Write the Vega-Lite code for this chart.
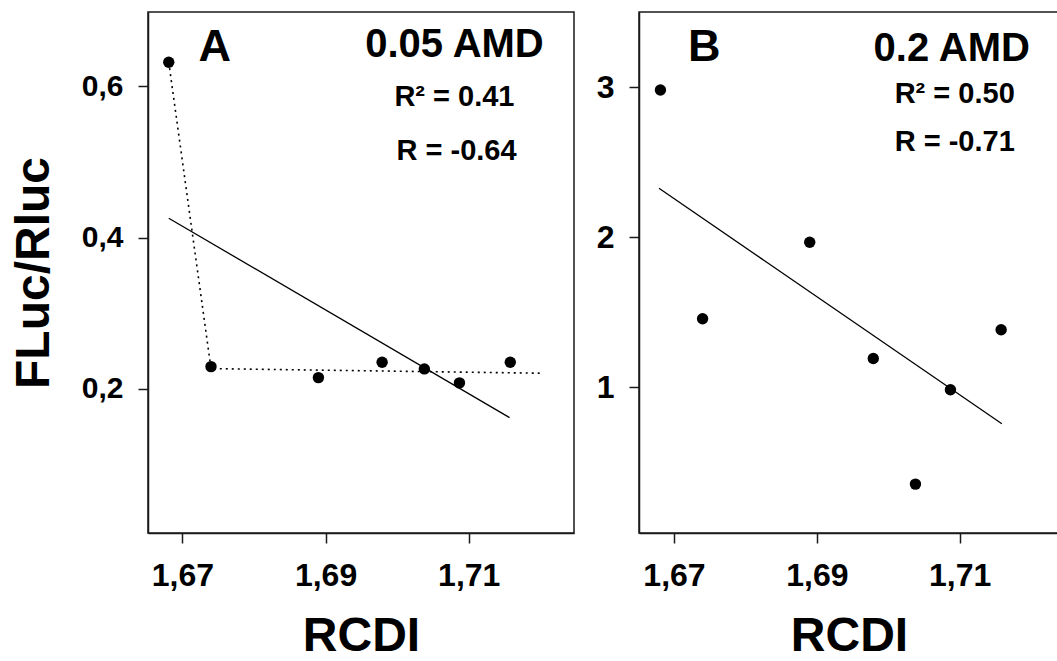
{
  "$schema": "https://vega.github.io/schema/vega-lite/v6.json",
  "background": "white",
  "padding": {"left": 9, "top": 11, "right": 0, "bottom": 0},
  "spacing": 20,
  "config": {
    "view": {"stroke": "#1a1a1a", "strokeWidth": 1.5},
    "font": "Liberation Sans",
    "axis": {
      "grid": false,
      "domainColor": "#1a1a1a",
      "domainWidth": 1.5,
      "tickColor": "#1a1a1a",
      "tickWidth": 1.5,
      "tickSize": 10,
      "labelFont": "Liberation Sans",
      "labelFontWeight": "bold",
      "labelColor": "#000000",
      "titleFont": "Liberation Sans",
      "titleFontWeight": "bold",
      "titleColor": "#000000",
      "titleFontSize": 48
    }
  },
  "datasets": {
    "pts": [
      {"panel": "A", "rcdi": 1.6681, "ratio": 0.632},
      {"panel": "A", "rcdi": 1.6740, "ratio": 0.2295},
      {"panel": "A", "rcdi": 1.6890, "ratio": 0.215},
      {"panel": "A", "rcdi": 1.6979, "ratio": 0.2353},
      {"panel": "A", "rcdi": 1.7038, "ratio": 0.2265},
      {"panel": "A", "rcdi": 1.7087, "ratio": 0.208},
      {"panel": "A", "rcdi": 1.7158, "ratio": 0.2353},
      {"panel": "B", "rcdi": 1.6681, "ratio": 2.98},
      {"panel": "B", "rcdi": 1.6740, "ratio": 1.455},
      {"panel": "B", "rcdi": 1.6890, "ratio": 1.965},
      {"panel": "B", "rcdi": 1.6979, "ratio": 1.19},
      {"panel": "B", "rcdi": 1.7038, "ratio": 0.353},
      {"panel": "B", "rcdi": 1.7087, "ratio": 0.982},
      {"panel": "B", "rcdi": 1.7158, "ratio": 1.382}
    ],
    "fit": [
      {"panel": "A", "rcdi": 1.6681, "ratio": 0.4258},
      {"panel": "A", "rcdi": 1.7157, "ratio": 0.162},
      {"panel": "B", "rcdi": 1.6679, "ratio": 2.325},
      {"panel": "B", "rcdi": 1.7159, "ratio": 0.755}
    ],
    "dots": [
      {"panel": "A", "rcdi": 1.6681, "ratio": 0.632},
      {"panel": "A", "rcdi": 1.6740, "ratio": 0.2269},
      {"panel": "A", "rcdi": 1.7202, "ratio": 0.2208}
    ],
    "notes": [
      {"panel": "A", "role": "letter", "label": "A", "rcdi": 1.67227, "ratio": 0.6337},
      {"panel": "A", "role": "head", "label": "0.05 AMD", "rcdi": 1.7080, "ratio": 0.639},
      {"panel": "A", "role": "stat", "label": "R² = 0.41", "rcdi": 1.7080, "ratio": 0.5742},
      {"panel": "A", "role": "stat", "label": "R = -0.64", "rcdi": 1.7083, "ratio": 0.5028},
      {"panel": "B", "role": "letter", "label": "B", "rcdi": 1.67196, "ratio": 3.173},
      {"panel": "B", "role": "head", "label": "0.2 AMD", "rcdi": 1.70888, "ratio": 3.173},
      {"panel": "B", "role": "stat", "label": "R² = 0.50", "rcdi": 1.7093, "ratio": 2.893},
      {"panel": "B", "role": "stat", "label": "R = -0.71", "rcdi": 1.7093, "ratio": 2.573}
    ]
  },
  "hconcat": [
    {
      "width": 426,
      "height": 521,
      "encoding": {
        "x": {
          "field": "rcdi", "type": "quantitative",
          "scale": {"domain": [1.6652, 1.7247], "nice": false, "zero": false},
          "axis": {"values": [1.67, 1.69, 1.71], "labelExpr": "replace(format(datum.value, '.2f'), '.', ',')", "labelFontSize": 32, "labelPadding": 17, "titlePadding": 21, "title": "RCDI"}
        },
        "y": {
          "field": "ratio", "type": "quantitative",
          "scale": {"domain": [0.0095, 0.6985], "nice": false, "zero": false},
          "axis": {"values": [0.2, 0.4, 0.6], "labelExpr": "replace(format(datum.value, '.1f'), '.', ',')", "labelFontSize": 30, "labelPadding": 15, "titlePadding": 23, "title": "FLuc/Rluc"}
        }
      },
      "layer": [
        {"data": {"name": "dots"}, "mark": {"type": "line", "color": "#000000", "strokeWidth": 1.6, "strokeDash": [2, 4]}},
        {"data": {"name": "fit"}, "transform": [{"filter": "datum.panel === 'A'"}], "mark": {"type": "line", "color": "#000000", "strokeWidth": 1.3}},
        {"data": {"name": "pts"}, "transform": [{"filter": "datum.panel === 'A'"}], "mark": {"type": "circle", "color": "#000000", "opacity": 1, "size": 130}},
        {"data": {"name": "notes"}, "transform": [{"filter": "datum.panel === 'A' && datum.role === 'letter'"}], "mark": {"type": "text", "align": "left", "baseline": "alphabetic", "fontSize": 45, "fontWeight": "bold", "color": "#000000"}, "encoding": {"text": {"field": "label"}}},
        {"data": {"name": "notes"}, "transform": [{"filter": "datum.panel === 'A' && datum.role === 'head'"}], "mark": {"type": "text", "align": "center", "baseline": "alphabetic", "fontSize": 40, "fontWeight": "bold", "color": "#000000"}, "encoding": {"text": {"field": "label"}}},
        {"data": {"name": "notes"}, "transform": [{"filter": "datum.panel === 'A' && datum.role === 'stat'"}], "mark": {"type": "text", "align": "center", "baseline": "alphabetic", "fontSize": 29, "fontWeight": "bold", "color": "#000000"}, "encoding": {"text": {"field": "label"}}}
      ]
    },
    {
      "width": 420,
      "height": 521,
      "encoding": {
        "x": {
          "field": "rcdi", "type": "quantitative",
          "scale": {"domain": [1.6651, 1.7239], "nice": false, "zero": false},
          "axis": {"values": [1.67, 1.69, 1.71], "labelExpr": "replace(format(datum.value, '.2f'), '.', ',')", "labelFontSize": 32, "labelPadding": 17, "titlePadding": 21, "title": "RCDI"}
        },
        "y": {
          "field": "ratio", "type": "quantitative",
          "scale": {"domain": [0.027, 3.5], "nice": false, "zero": false},
          "axis": {"values": [1, 2, 3], "labelExpr": "format(datum.value, 'd')", "labelFontSize": 32, "labelPadding": 15, "title": null}
        }
      },
      "layer": [
        {"data": {"name": "fit"}, "transform": [{"filter": "datum.panel === 'B'"}], "mark": {"type": "line", "color": "#000000", "strokeWidth": 1.3}},
        {"data": {"name": "pts"}, "transform": [{"filter": "datum.panel === 'B'"}], "mark": {"type": "circle", "color": "#000000", "opacity": 1, "size": 130}},
        {"data": {"name": "notes"}, "transform": [{"filter": "datum.panel === 'B' && datum.role === 'letter'"}], "mark": {"type": "text", "align": "left", "baseline": "alphabetic", "fontSize": 45, "fontWeight": "bold", "color": "#000000"}, "encoding": {"text": {"field": "label"}}},
        {"data": {"name": "notes"}, "transform": [{"filter": "datum.panel === 'B' && datum.role === 'head'"}], "mark": {"type": "text", "align": "center", "baseline": "alphabetic", "fontSize": 40, "fontWeight": "bold", "color": "#000000"}, "encoding": {"text": {"field": "label"}}},
        {"data": {"name": "notes"}, "transform": [{"filter": "datum.panel === 'B' && datum.role === 'stat'"}], "mark": {"type": "text", "align": "center", "baseline": "alphabetic", "fontSize": 29, "fontWeight": "bold", "color": "#000000"}, "encoding": {"text": {"field": "label"}}}
      ]
    }
  ]
}
